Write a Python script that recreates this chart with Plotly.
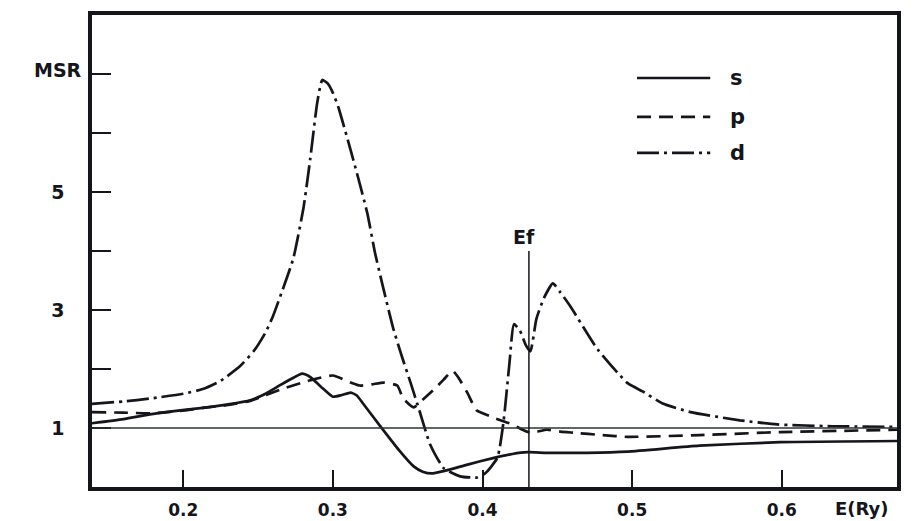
import plotly.graph_objects as go

# ---- data ----
E_s = [0.139, 0.160, 0.180, 0.198, 0.213, 0.230, 0.2448, 0.255, 0.265, 0.272, 0.2795, 0.285, 0.292,
       0.300, 0.306, 0.312, 0.316, 0.320, 0.332, 0.344, 0.354, 0.360, 0.366, 0.374, 0.390, 0.407,
       0.420, 0.430, 0.443, 0.470, 0.497, 0.545, 0.599, 0.677]
MSR_s = [1.08, 1.15, 1.24, 1.30, 1.34, 1.40, 1.47, 1.58, 1.73, 1.83, 1.92, 1.86, 1.70,
         1.53, 1.56, 1.60, 1.55, 1.42, 1.02, 0.63, 0.35, 0.26, 0.23, 0.27, 0.38, 0.49,
         0.56, 0.59, 0.58, 0.58, 0.60, 0.70, 0.76, 0.78]

E_p = [0.139, 0.160, 0.180, 0.198, 0.213, 0.230, 0.2448, 0.2514, 0.267, 0.285, 0.300, 0.312, 0.318,
       0.326, 0.334, 0.343, 0.347, 0.354, 0.360, 0.367, 0.374, 0.380, 0.384, 0.390, 0.396, 0.405,
       0.412, 0.420, 0.426, 0.432, 0.437, 0.443, 0.452, 0.461, 0.480, 0.497, 0.545, 0.599, 0.677]
MSR_p = [1.27, 1.26, 1.25, 1.29, 1.34, 1.39, 1.46, 1.52, 1.67, 1.81, 1.89, 1.77, 1.72,
         1.74, 1.77, 1.72, 1.50, 1.35, 1.48, 1.64, 1.82, 1.97, 1.85, 1.59, 1.30, 1.20,
         1.13, 1.06, 0.98, 0.92, 0.94, 0.97, 0.94, 0.92, 0.88, 0.85, 0.88, 0.93, 0.97]

E_d = [0.139, 0.160, 0.178, 0.200, 0.213, 0.225, 0.238, 0.247, 0.255, 0.260, 0.2665, 0.2735,
       0.2802, 0.2848, 0.2895, 0.2929, 0.2965, 0.300, 0.3035, 0.3136, 0.3229, 0.3283, 0.340, 0.346,
       0.352, 0.358, 0.365, 0.374, 0.385, 0.396, 0.400, 0.403, 0.410, 0.414, 0.418, 0.421,
       0.425, 0.429, 0.432, 0.436, 0.441, 0.447, 0.452, 0.459, 0.477, 0.497, 0.507, 0.520,
       0.539, 0.572, 0.597, 0.634, 0.677]
MSR_d = [1.41, 1.45, 1.50, 1.58, 1.66, 1.80, 2.05, 2.30, 2.62, 2.90, 3.35, 3.87,
         4.71, 5.55, 6.51, 6.90, 6.84, 6.68, 6.45, 5.55, 4.65, 3.95, 2.72, 2.22,
         1.76, 1.28, 0.72, 0.32, 0.18, 0.16, 0.20, 0.26, 0.50, 1.10, 2.10, 2.76,
         2.65, 2.40, 2.30, 2.85, 3.20, 3.45, 3.30, 3.05, 2.33, 1.76, 1.62, 1.42,
         1.27, 1.13, 1.06, 1.03, 1.02]

EF = 0.431
x_ticks = [0.2, 0.3, 0.4, 0.5, 0.6]
x_labels = ["0.2", "0.3", "0.4", "0.5", "0.6"]
y_ticks = [1, 2, 3, 4, 5, 6, 7]
y_labels = ["1", "", "3", "", "5", "", ""]
series_names = ["s", "p", "d"]

FONT = "DejaVu Sans"
INK = "#15151c"
dashes = {"s": "solid", "p": "14px,8px", "d": "22px,5px,3px,5px"}
txt = dict(family=FONT, size=19, color=INK, weight="bold")
xtxt = dict(family=FONT, size=17, color=INK, weight="bold")

fig = go.Figure()
for name, xs, ys in [("s", E_s, MSR_s), ("p", E_p, MSR_p), ("d", E_d, MSR_d)]:
    fig.add_trace(go.Scatter(x=xs, y=ys, mode="lines", name=name,
                             line=dict(color=INK, width=2.7, dash=dashes[name],
                                       shape="spline", smoothing=0.5),
                             showlegend=False))

# horizontal reference at MSR = 1
fig.add_shape(type="line", xref="paper", x0=0, x1=1, yref="y", y0=1, y1=1,
              line=dict(color="#27372f", width=1.3))
# Fermi level
fig.add_shape(type="line", xref="x", x0=EF, x1=EF, yref="y", y0=0, y1=4.0,
              line=dict(color=INK, width=1.5))
fig.add_annotation(x=EF, y=4.0, xref="x", yref="y", text="Ef", showarrow=False,
                   yanchor="bottom", xanchor="center", xshift=-5, yshift=1,
                   font=dict(family=FONT, size=19, color=INK, weight="bold"))

# legend drawn as samples + labels
leg_y = [0.8665, 0.784, 0.708]
for name, yy in zip(series_names, leg_y):
    fig.add_shape(type="line", xref="paper", yref="paper", x0=0.677, x1=0.768, y0=yy, y1=yy,
                  line=dict(color=INK, width=2.7, dash=dashes[name]))
    fig.add_annotation(x=0.79, y=yy, xref="paper", yref="paper", text=name, showarrow=False,
                       xanchor="left", yanchor="middle",
                       font=dict(family=FONT, size=21, color=INK, weight="bold"))

fig.add_annotation(x=0, y=7, xref="paper", yref="y", text="MSR", showarrow=False,
                   xanchor="right", yanchor="middle", xshift=-8, yshift=4, font=txt)
fig.add_annotation(x=0.634, y=0, xref="x", yref="paper", text="E(Ry)", showarrow=False,
                   xanchor="left", yanchor="top", yshift=-9,
                   font=dict(family=FONT, size=18, color=INK, weight="bold"))

fig.update_layout(
    width=917, height=521,
    margin=dict(l=92, r=20, t=15, b=34),
    paper_bgcolor="white", plot_bgcolor="white",
    font=dict(family=FONT, size=19, color=INK),
    xaxis=dict(range=[0.139, 0.677], tickvals=x_ticks, ticktext=x_labels,
               ticks="inside", ticklen=17, tickwidth=2, tickcolor=INK,
               showline=True, linewidth=3.5, linecolor=INK, mirror=True,
               showgrid=False, zeroline=False, ticklabelstandoff=5,
               automargin=False, tickfont=xtxt),
    yaxis=dict(range=[0, 8], tickvals=y_ticks, ticktext=y_labels,
               ticks="inside", ticklen=19, tickwidth=2, tickcolor=INK,
               showline=True, linewidth=3.5, linecolor=INK, mirror=True,
               showgrid=False, zeroline=False, ticklabelstandoff=20,
               automargin=False, tickfont=txt),
)

fig.write_html("out.html")
